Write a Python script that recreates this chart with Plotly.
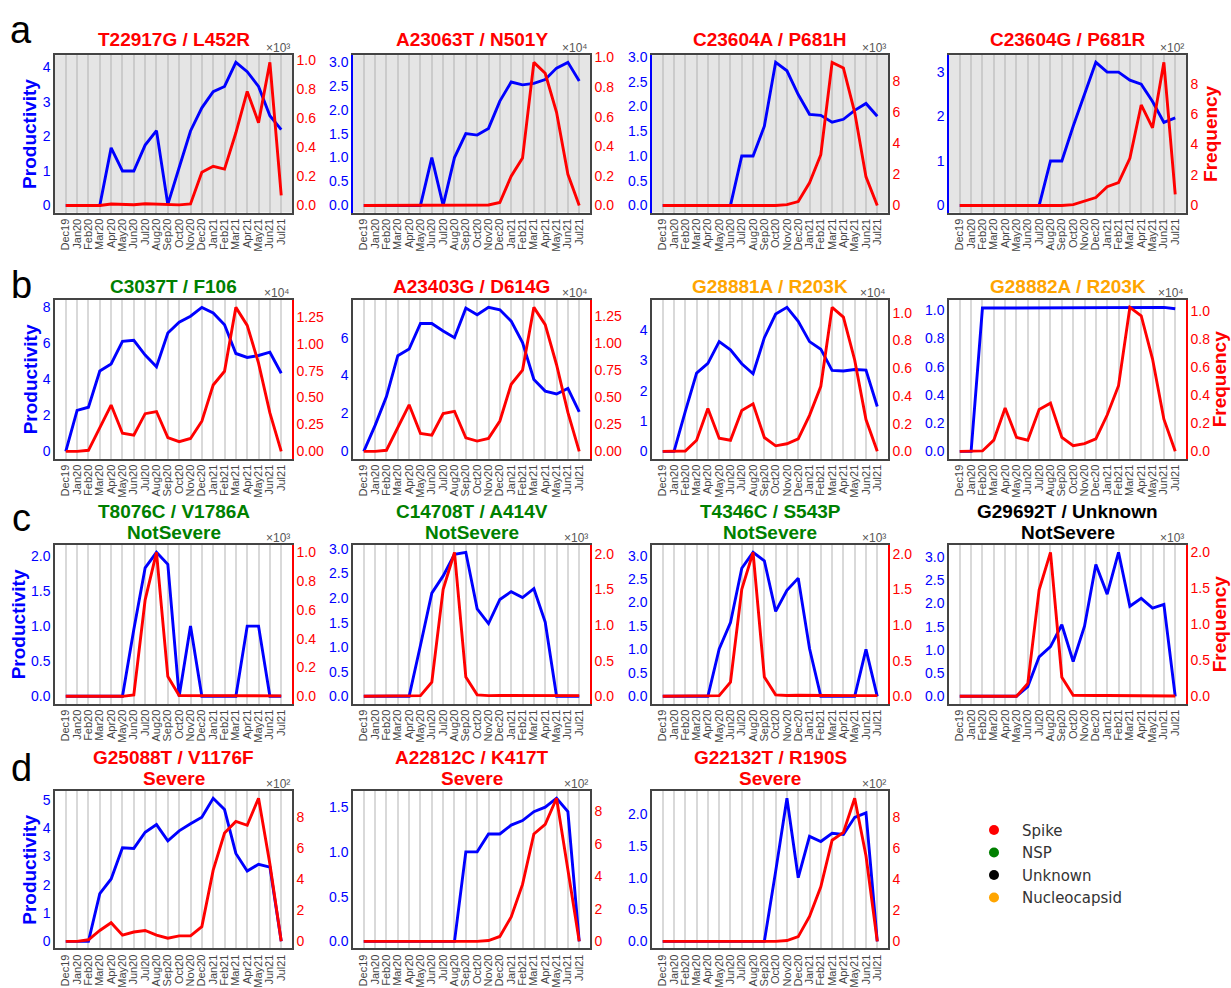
import plotly.graph_objects as go

W, H = 1231, 988

# ---------------- data ----------------
months = ["Dec19", "Jan20", "Feb20", "Mar20", "Apr20", "May20", "Jun20", "Jul20",
          "Aug20", "Sep20", "Oct20", "Nov20", "Dec20", "Jan21", "Feb21", "Mar21",
          "Apr21", "May21", "Jun21", "Jul21"]

# row a
prod_T22917G = [0, 0, 0, 0, 1.67, 1.0, 1.0, 1.75, 2.17, 0.03, 1.1, 2.16, 2.83, 3.3, 3.45, 4.15, 3.88, 3.45, 2.6, 2.2]
freq_T22917G = [0, 0, 0, 0, 10, 5, 5, 12, 8, 3, 4, 10, 228, 270, 250, 500, 785, 570, 985, 70]
prod_A23063T = [0, 0, 0, 0, 0, 0, 1.0, 0, 1.0, 1.5, 1.47, 1.61, 2.18, 2.58, 2.52, 2.55, 2.63, 2.87, 2.99, 2.6]
freq_A23063T = [0, 0, 0, 0, 0, 0, 0, 0, 0, 0, 0, 30, 200, 1970, 3200, 9670, 8930, 6300, 2100, 0]
prod_C23604A = [0, 0, 0, 0, 0, 0, 0, 1.0, 1.0, 1.6, 2.89, 2.72, 2.24, 1.84, 1.82, 1.68, 1.74, 1.92, 2.06, 1.8]
freq_C23604A = [0, 0, 0, 0, 0, 0, 0, 0, 0, 0, 0, 50, 250, 1460, 3270, 9220, 8860, 6000, 1840, 0]
prod_C23604G = [0, 0, 0, 0, 0, 0, 0, 0, 1.0, 1.0, 1.78, 2.48, 3.22, 3.0, 3.0, 2.82, 2.73, 2.34, 1.87, 1.97]
freq_C23604G = [0, 0, 0, 0, 0, 0, 0, 0, 0, 0, 5, 30, 52, 123, 150, 310, 660, 510, 940, 73]

# row b
prod_C3037T = [0, 2.26, 2.44, 4.44, 4.83, 6.08, 6.14, 5.32, 4.68, 6.54, 7.14, 7.47, 7.96, 7.65, 7.0, 5.41, 5.19, 5.3, 5.48, 4.32]
freq_C3037T = [0, 0, 100, 2200, 4300, 1680, 1500, 3500, 3700, 1280, 900, 1200, 2800, 6160, 7440, 13380, 11700, 8200, 3570, 0]
prod_A23403G = [0, 1.37, 2.89, 5.05, 5.4, 6.75, 6.75, 6.35, 6.0, 7.56, 7.21, 7.6, 7.47, 6.87, 5.74, 3.79, 3.18, 3.03, 3.32, 2.08]
freq_A23403G = [0, 0, 100, 2200, 4300, 1650, 1500, 3500, 3700, 1250, 950, 1200, 2800, 6200, 7500, 13300, 11700, 8000, 3600, 0]
prod_G28881A = [0, 0, 1.32, 2.58, 2.9, 3.62, 3.35, 2.89, 2.56, 3.75, 4.53, 4.75, 4.29, 3.62, 3.37, 2.67, 2.65, 2.7, 2.68, 1.48]
freq_G28881A = [0, 0, 30, 800, 3100, 950, 800, 2950, 3430, 1000, 400, 550, 900, 2600, 4700, 10400, 9700, 6600, 2300, 0]
prod_G28882A = [0, 0, 1.015, 1.015, 1.015, 1.015, 1.02, 1.015, 1.015, 1.015, 1.015, 1.015, 1.015, 1.02, 1.02, 1.015, 1.015, 1.015, 1.02, 1.01]
freq_G28882A = [0, 0, 30, 800, 3100, 1000, 800, 3000, 3450, 1000, 400, 550, 900, 2600, 4700, 10300, 9700, 6600, 2300, 0]

# row c
prod_T8076C = [0, 0, 0, 0, 0, 0, 0.95, 1.83, 2.05, 1.88, 0, 1.0, 0, 0, 0, 0, 1.0, 1.0, 0, 0]
freq_T8076C = [0, 0, 0, 0, 0, 0, 10, 670, 1000, 137, 5, 5, 3, 3, 3, 3, 5, 5, 3, 3]
prod_C14708T = [0, 0, 0, 0, 0, 1.04, 2.1, 2.45, 2.89, 2.93, 1.78, 1.48, 1.97, 2.13, 2.01, 2.19, 1.51, 0, 0, 0]
freq_C14708T = [0, 0, 0, 0, 0, 10, 200, 1500, 2020, 270, 20, 10, 12, 12, 10, 12, 10, 10, 10, 10]
prod_T4346C = [0, 0, 0, 0, 0, 1.01, 1.57, 2.73, 3.07, 2.89, 1.81, 2.26, 2.52, 1.02, 0, 0, 0, 0, 1.0, 0]
freq_T4346C = [0, 0, 0, 0, 0, 10, 200, 1500, 2020, 270, 20, 12, 15, 12, 10, 10, 10, 10, 10, 10]
prod_G29692T = [0, 0, 0, 0, 0, 0, 0.21, 0.85, 1.07, 1.54, 0.75, 1.51, 2.84, 2.2, 3.1, 1.94, 2.11, 1.9, 1.98, 0]
freq_G29692T = [0, 0, 0, 0, 0, 0, 180, 1480, 2000, 265, 15, 10, 12, 12, 12, 15, 12, 12, 12, 5]

# row d
prod_G25088T = [0, 0, 0, 1.68, 2.2, 3.3, 3.28, 3.85, 4.12, 3.55, 3.9, 4.15, 4.38, 5.05, 4.65, 3.1, 2.48, 2.72, 2.62, 0]
freq_G25088T = [0, 0, 10, 70, 120, 40, 60, 70, 40, 20, 35, 35, 95, 460, 700, 775, 750, 925, 500, 0]
prod_A22812C = [0, 0, 0, 0, 0, 0, 0, 0, 0, 1.0, 1.0, 1.2, 1.2, 1.3, 1.35, 1.45, 1.5, 1.6, 1.45, 0]
freq_A22812C = [0, 0, 0, 0, 0, 0, 0, 0, 0, 0, 0, 5, 30, 150, 350, 660, 720, 880, 450, 0]
prod_G22132T = [0, 0, 0, 0, 0, 0, 0, 0, 0, 0, 1.1, 2.25, 1.0, 1.65, 1.57, 1.7, 1.68, 1.95, 2.02, 0]
freq_G22132T = [0, 0, 0, 0, 0, 0, 0, 0, 0, 0, 0, 5, 30, 160, 350, 650, 700, 920, 550, 0]

mutation_labels = ["T22917G / L452R", "A23063T / N501Y", "C23604A / P681H", "C23604G / P681R",
                   "C3037T / F106", "A23403G / D614G", "G28881A / R203K", "G28882A / R203K",
                   "T8076C / V1786A", "C14708T / A414V", "T4346C / S543P", "G29692T / Unknown",
                   "G25088T / V1176F", "A22812C / K417T", "G22132T / R190S"]
severity_labels = ["", "", "", "", "", "", "", "",
                   "NotSevere", "NotSevere", "NotSevere", "NotSevere",
                   "Severe", "Severe", "Severe"]
mutation_genes = ["Spike", "Spike", "Spike", "Spike",
                  "NSP", "Spike", "Nucleocapsid", "Nucleocapsid",
                  "NSP", "NSP", "NSP", "Unknown",
                  "Spike", "Spike", "Spike"]
gene_names = ["Spike", "NSP", "Unknown", "Nucleocapsid"]
panel_letters = ["a", "b", "c", "d"]

prod_series = [prod_T22917G, prod_A23063T, prod_C23604A, prod_C23604G,
               prod_C3037T, prod_A23403G, prod_G28881A, prod_G28882A,
               prod_T8076C, prod_C14708T, prod_T4346C, prod_G29692T,
               prod_G25088T, prod_A22812C, prod_G22132T]
freq_series = [freq_T22917G, freq_A23063T, freq_C23604A, freq_C23604G,
               freq_C3037T, freq_A23403G, freq_G28881A, freq_G28882A,
               freq_T8076C, freq_C14708T, freq_T4346C, freq_G29692T,
               freq_G25088T, freq_A22812C, freq_G22132T]

# ---------------- style ----------------
gene_colors = {"Spike": "#ff0000", "NSP": "#008000", "Unknown": "#000000", "Nucleocapsid": "#ffa500"}
FONT = "Liberation Sans, Arial, sans-serif"
row_top = [50, 299, 548, 798]
row_bot = [210, 460, 709, 958]
col_left = [55, 353, 652, 949]
col_right = [292, 590, 888, 1186]
title_y = [34, 285, 514, 764]        # first title line (pixel, center)
subtitle_y = [None, None, 535, 785]  # second title line
letter_y = [24, 284, 520, 775]
prod_label_x = [30, 30, 18, 30]
freq_label_x = [1211, 1219, 1219, 1219]

left_dtick = [1, 0.5, 0.5, 1, 2, 2, 1, 0.2, 0.5, 0.5, 0.5, 0.5, 1, 0.5, 0.5]
left_fmt = ["{:.0f}", "{:.1f}", "{:.1f}", "{:.0f}", "{:.0f}", "{:.0f}", "{:.0f}", "{:.1f}",
            "{:.1f}", "{:.1f}", "{:.1f}", "{:.1f}", "{:.0f}", "{:.1f}", "{:.1f}"]
right_exp = [3, 4, 3, 2, 4, 4, 4, 4, 3, 3, 3, 3, 2, 2, 2]
right_step = [0.2, 0.2, 2, 2, 0.25, 0.25, 0.2, 0.2, 0.2, 0.5, 0.5, 0.5, 2, 2, 2]
right_fmt = ["{:.1f}", "{:.1f}", "{:.0f}", "{:.0f}", "{:.2f}", "{:.2f}", "{:.1f}", "{:.1f}",
             "{:.1f}", "{:.1f}", "{:.1f}", "{:.1f}", "{:.0f}", "{:.0f}", "{:.0f}"]
left_line = ["#444444", "#0000ff", "#0000ff", "#0000ff"] + ["#444444"] * 11
right_line = ["#444444"] * 4 + ["#ff0000", "#ff0000", "#444444", "#ff0000"] + ["#ff0000"] * 4 + ["#444444"] * 3
superscripts = {2: "²", 3: "³", 4: "⁴"}


def pad_range(vals):
    lo, hi = min(0, min(vals)), max(vals)
    p = 0.05 * (hi - lo)
    return [lo - p, hi + p]


fig = go.Figure()
layout = {}
annotations = []
shapes = []

for k in range(15):
    r = k // 4 if k < 12 else 3
    c = k % 4 if k < 12 else k - 12
    ix = k + 1
    xname = "x" if ix == 1 else f"x{ix}"
    xkey = "xaxis" if ix == 1 else f"xaxis{ix}"
    yl, yr = 2 * k + 1, 2 * k + 2
    ylname = "y" if yl == 1 else f"y{yl}"
    ylkey = "yaxis" if yl == 1 else f"yaxis{yl}"
    yrname, yrkey = f"y{yr}", f"yaxis{yr}"

    x0, x1 = col_left[c] / W, col_right[c] / W
    y0, y1 = 1 - row_bot[r] / H, 1 - row_top[r] / H

    prod = prod_series[k]
    freq = freq_series[k]

    fig.add_trace(go.Scatter(x=months, y=prod, mode="lines", line=dict(color="#0000ff", width=2.9),
                             xaxis=xname, yaxis=ylname, showlegend=False))
    fig.add_trace(go.Scatter(x=months, y=freq, mode="lines", line=dict(color="#ff0000", width=2.9),
                             xaxis=xname, yaxis=yrname, showlegend=False))

    grid_col = "#cbcbcb" if r == 0 else "#d9d9d9"
    layout[xkey] = dict(domain=[x0, x1], anchor=ylname, type="category",
                        range=[-0.95, len(months) - 1 + 0.95],
                        tickmode="array", tickvals=months, ticktext=months,
                        showgrid=True, gridcolor=grid_col, gridwidth=1.5,
                        tickangle=-90, tickfont=dict(size=11, color="#444444"),
                        showline=True, linecolor="#444444", linewidth=1.5, mirror=True,
                        ticks="", zeroline=False)

    lrange = pad_range(prod)
    d = left_dtick[k]
    lvals = [j * d for j in range(0, int(lrange[1] / d + 1e-9) + 1)]
    layout[ylkey] = dict(domain=[y0, y1], anchor=xname, range=lrange,
                         tickvals=lvals, ticktext=[left_fmt[k].format(v) for v in lvals],
                         tickfont=dict(size=14, color="#0000ff"),
                         showgrid=False, zeroline=False, ticks="",
                         showline=True, linecolor=left_line[k], linewidth=1.5)

    rrange = pad_range(freq)
    scale = 10 ** right_exp[k]
    st = right_step[k]
    nt = int(rrange[1] / scale / st + 1e-9)
    rdisp = [j * st for j in range(0, nt + 1)]
    layout[yrkey] = dict(overlaying=ylname, side="right", anchor=xname, range=rrange,
                         tickvals=[v * scale for v in rdisp],
                         ticktext=[right_fmt[k].format(v) for v in rdisp],
                         tickfont=dict(size=14, color="#ff0000"),
                         showgrid=False, zeroline=False, ticks="",
                         showline=True, linecolor=right_line[k], linewidth=1.5)

    if r == 0:
        shapes.append(dict(type="rect", xref="paper", yref="paper", x0=x0, x1=x1, y0=y0, y1=y1,
                           fillcolor="#e5e5e5", line=dict(width=0), layer="below"))

    tcol = gene_colors[mutation_genes[k]]
    annotations.append(dict(text=f"<b>{mutation_labels[k]}</b>", x=(x0 + x1) / 2, y=1 - title_y[r] / H,
                            xref="paper", yref="paper", xanchor="center", yanchor="middle", showarrow=False,
                            font=dict(size=19, color=tcol, family=FONT)))
    if severity_labels[k]:
        annotations.append(dict(text=f"<b>{severity_labels[k]}</b>", x=(x0 + x1) / 2, y=1 - subtitle_y[r] / H,
                                xref="paper", yref="paper", xanchor="center", yanchor="middle", showarrow=False,
                                font=dict(size=19, color=tcol, family=FONT)))
    annotations.append(dict(text=f"×10{superscripts[right_exp[k]]}", x=x1, y=1 - (row_top[r] - 7) / H,
                            xref="paper", yref="paper", xanchor="right", yanchor="middle",
                            showarrow=False, font=dict(size=12, color="#555555", family=FONT)))

    if c == 0:
        annotations.append(dict(text="<b>Productivity</b>", x=prod_label_x[r] / W, y=(y0 + y1) / 2,
                                xref="paper", yref="paper",
                                xanchor="center", yanchor="middle", textangle=-90, showarrow=False,
                                font=dict(size=19, color="#0000ff", family=FONT)))
    if c == 3:
        annotations.append(dict(text="<b>Frequency</b>", x=freq_label_x[r] / W, y=(y0 + y1) / 2,
                                xref="paper", yref="paper",
                                xanchor="center", yanchor="middle", textangle=-90, showarrow=False,
                                font=dict(size=19, color="#ff0000", family=FONT)))

for r, letter in enumerate(panel_letters):
    annotations.append(dict(text=letter, x=21 / W, y=1 - letter_y[r] / H, xref="paper", yref="paper",
                            xanchor="center", yanchor="middle", showarrow=False,
                            font=dict(size=38, color="#000000", family=FONT)))

for g in gene_names:
    fig.add_trace(go.Scatter(x=[None], y=[None], mode="markers", name=g,
                             marker=dict(color=gene_colors[g], size=10),
                             xaxis="x", yaxis="y", showlegend=True))

fig.update_layout(
    width=W, height=H,
    margin=dict(l=0, r=0, t=0, b=0),
    paper_bgcolor="white", plot_bgcolor="rgba(0,0,0,0)",
    font=dict(family=FONT, size=12, color="#333333"),
    annotations=annotations, shapes=shapes,
    legend=dict(x=966 / W, y=1 - 821 / H, xanchor="left", yanchor="top",
                font=dict(size=15, color="#333333", family="DejaVu Sans, sans-serif"),
                bgcolor="rgba(0,0,0,0)", itemwidth=46),
    **layout,
)

fig.write_html("out.html")
